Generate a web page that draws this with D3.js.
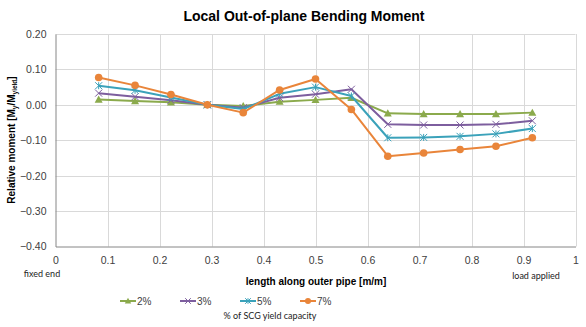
<!DOCTYPE html>
<html>
<head>
<meta charset="utf-8">
<script src="https://cdn.jsdelivr.net/npm/d3@7"></script>
<style>
  html, body { margin: 0; padding: 0; background: #fff; }
  svg { display: block; font-family: "Liberation Sans", Arial, sans-serif; }
</style>
</head>
<body>
<svg id="chart" width="586" height="327"></svg>
<script>
// Positions along the outer pipe (normalised length)
const positions = [0.083, 0.153, 0.222, 0.292, 0.361, 0.431, 0.500, 0.569, 0.639, 0.708, 0.778, 0.847, 0.917];

// Relative local out-of-plane bending moment, per % of SCG yield capacity
const series2 = [0.015, 0.011, 0.007, 0.000, -0.003, 0.009, 0.014, 0.020, -0.024, -0.026, -0.026, -0.026, -0.022];
const series3 = [0.033, 0.023, 0.013, 0.000, -0.008, 0.020, 0.030, 0.044, -0.055, -0.057, -0.057, -0.055, -0.045];
const series5 = [0.054, 0.041, 0.021, 0.000, -0.012, 0.031, 0.050, 0.025, -0.093, -0.092, -0.089, -0.082, -0.067];
const series7 = [0.077, 0.055, 0.029, 0.000, -0.022, 0.042, 0.073, -0.013, -0.145, -0.136, -0.126, -0.117, -0.093];

const seriesNames = ["2%", "3%", "5%", "7%"];
const xTicks = [0, 0.1, 0.2, 0.3, 0.4, 0.5, 0.6, 0.7, 0.8, 0.9, 1];
const yTicks = [0.20, 0.10, 0.00, -0.10, -0.20, -0.30, -0.40];

const colors = ["#8BAA4C", "#7D5E9E", "#3BA2BA", "#E9853A"];
const symbols = ["triangle", "x", "star", "circle"];
const seriesData = [series2, series3, series5, series7];

const svg = d3.select("#chart");
const plot = { left: 55.5, right: 575.5, top: 34, bottom: 246.5 };

const x = d3.scaleLinear().domain([0, 1]).range([plot.left, plot.right]);
const y = d3.scaleLinear().domain([-0.4, 0.2]).range([plot.bottom, plot.top]);

// Title
svg.append("text")
  .attr("x", 304).attr("y", 21)
  .attr("text-anchor", "middle")
  .attr("font-weight", "bold")
  .attr("font-size", 14)
  .attr("fill", "#000")
  .text("Local Out-of-plane Bending Moment");

// Grid lines
const grid = svg.append("g").attr("stroke", "#D9D9D9").attr("stroke-width", 1);
xTicks.slice(1).forEach(t => {
  grid.append("line").attr("x1", Math.round(x(t)) + 0.5).attr("x2", Math.round(x(t)) + 0.5)
    .attr("y1", plot.top).attr("y2", plot.bottom);
});
yTicks.forEach(t => {
  if (t === -0.4) return;
  grid.append("line").attr("x1", plot.left).attr("x2", plot.right)
    .attr("y1", Math.round(y(t)) + 0.5).attr("y2", Math.round(y(t)) + 0.5);
});

// Axes
const xAxis = d3.axisBottom(x).tickValues(xTicks).tickSize(0).tickPadding(10)
  .tickFormat(d => d3.format("")(d));
const gx = svg.append("g").attr("transform", `translate(0,${plot.bottom})`).call(xAxis);
gx.select(".domain").attr("stroke", "#868686");
gx.selectAll(".tick text").attr("font-size", 10.5).attr("fill", "#404040")
  .attr("font-family", "Liberation Sans, Arial, sans-serif");

const yAxis = d3.axisLeft(y).tickValues(yTicks).tickSize(0).tickPadding(9)
  .tickFormat(d3.format(".2f"));
const gy = svg.append("g").attr("transform", `translate(${plot.left},0)`).call(yAxis);
gy.select(".domain").attr("stroke", "#868686");
gy.selectAll(".tick text").attr("font-size", 10.5).attr("fill", "#404040")
  .attr("font-family", "Liberation Sans, Arial, sans-serif");

// End annotations
svg.append("text").attr("x", 42).attr("y", 277).attr("text-anchor", "middle")
  .attr("font-size", 9).attr("font-family", "Lato, sans-serif").attr("fill", "#222")
  .text("fixed end");
svg.append("text").attr("x", 536).attr("y", 279).attr("text-anchor", "middle")
  .attr("font-size", 9).attr("font-family", "Lato, sans-serif").attr("fill", "#222")
  .text("load applied");

// Axis titles
svg.append("text").attr("x", 316).attr("y", 285).attr("text-anchor", "middle")
  .attr("font-weight", "bold").attr("font-size", 10).attr("fill", "#000")
  .text("length along outer pipe [m/m]");

const yTitle = svg.append("text")
  .attr("transform", "translate(15,140) rotate(-90)")
  .attr("text-anchor", "middle")
  .attr("font-weight", "bold").attr("font-size", 10).attr("fill", "#000");
yTitle.append("tspan").text("Relative moment [M");
yTitle.append("tspan").attr("font-size", 6.5).attr("dy", 2).text("y");
yTitle.append("tspan").attr("dy", -2).text("/M");
yTitle.append("tspan").attr("font-size", 6.5).attr("dy", 2).text("yield");
yTitle.append("tspan").attr("dy", -2).text("]");

// Marker drawing
function drawMarker(g, kind, color, cx, cy, scale) {
  const s = scale || 1;
  if (kind === "circle") {
    g.append("circle").attr("cx", cx).attr("cy", cy).attr("r", 3.8 * s).attr("fill", color);
  } else if (kind === "triangle") {
    const h = 4 * s;
    g.append("path")
      .attr("d", `M${cx},${cy - h}L${cx + h},${cy + h * 0.8}L${cx - h},${cy + h * 0.8}Z`)
      .attr("fill", color);
  } else if (kind === "x") {
    const h = 3.5 * s;
    g.append("path")
      .attr("d", `M${cx - h},${cy - h}L${cx + h},${cy + h}M${cx - h},${cy + h}L${cx + h},${cy - h}`)
      .attr("stroke", color).attr("stroke-width", 1).attr("fill", "none");
  } else if (kind === "star") {
    const h = 3.5 * s;
    g.append("path")
      .attr("d", `M${cx - h},${cy - h}L${cx + h},${cy + h}M${cx - h},${cy + h}L${cx + h},${cy - h}M${cx},${cy - h}L${cx},${cy + h}`)
      .attr("stroke", color).attr("stroke-width", 1).attr("fill", "none");
  }
}

// Series lines and markers
const line = d3.line().x(d => x(d[0])).y(d => y(d[1]));
seriesData.forEach((vals, i) => {
  const pts = positions.map((p, j) => [p, vals[j]]);
  const g = svg.append("g");
  g.append("path").datum(pts)
    .attr("d", line)
    .attr("fill", "none")
    .attr("stroke", colors[i])
    .attr("stroke-width", 2)
    .attr("stroke-linejoin", "round");
  pts.forEach(p => drawMarker(g, symbols[i], colors[i], x(p[0]), y(p[1])));
});

// Legend
const legendX = [120, 180, 240, 300];
const legend = svg.append("g");
seriesNames.forEach((name, i) => {
  const lx = legendX[i], ly = 301;
  legend.append("line").attr("x1", lx).attr("x2", lx + 16).attr("y1", ly).attr("y2", ly)
    .attr("stroke", colors[i]).attr("stroke-width", 2);
  drawMarker(legend, symbols[i], colors[i], lx + 8, ly, 0.8);
  legend.append("text").attr("x", lx + 17).attr("y", ly + 4)
    .attr("font-size", 10).attr("fill", "#404040").text(name);
});
svg.append("text").attr("x", 270).attr("y", 319).attr("text-anchor", "middle")
  .attr("font-size", 9).attr("font-family", "Lato, sans-serif").attr("fill", "#222")
  .text("% of SCG yield capacity");
</script>
</body>
</html>
